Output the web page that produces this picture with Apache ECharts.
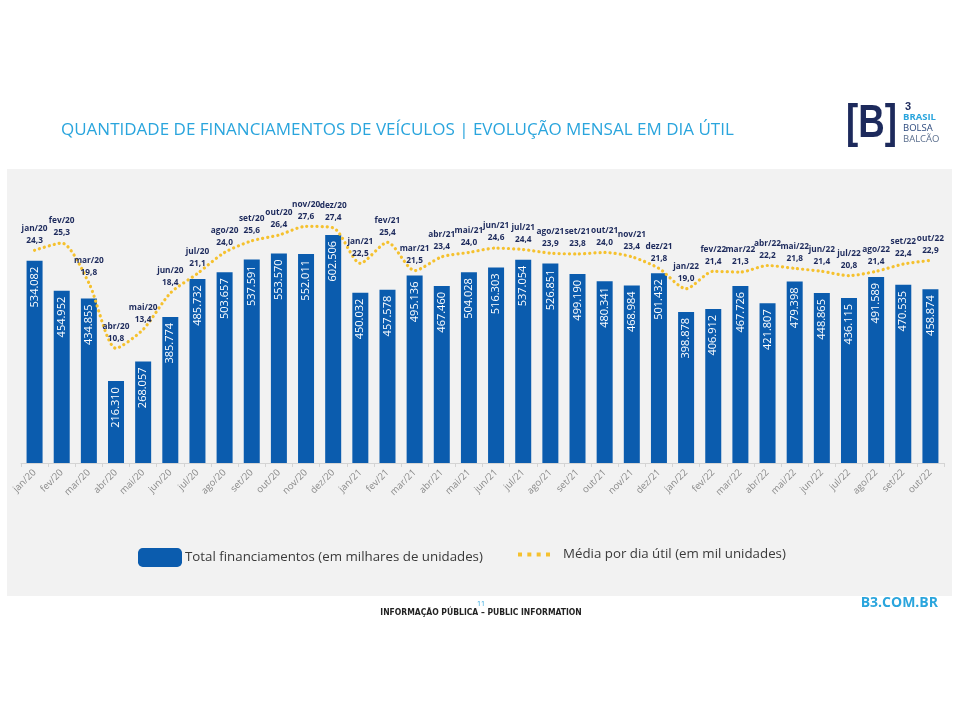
<!DOCTYPE html>
<html>
<head>
<meta charset="utf-8">
<script src="https://cdn.jsdelivr.net/npm/echarts@6/dist/echarts.min.js"></script>
<style>
    html, body { margin: 0; padding: 0; background: #fff; }
    #main { width: 960px; height: 720px; }
</style>
</head>
<body>
<div id="main"></div>
<script>
// meses
const months = [
    'jan/20', 'fev/20', 'mar/20', 'abr/20', 'mai/20', 'jun/20', 'jul/20', 'ago/20', 'set/20', 'out/20', 'nov/20', 'dez/20',
    'jan/21', 'fev/21', 'mar/21', 'abr/21', 'mai/21', 'jun/21', 'jul/21', 'ago/21', 'set/21', 'out/21', 'nov/21', 'dez/21',
    'jan/22', 'fev/22', 'mar/22', 'abr/22', 'mai/22', 'jun/22', 'jul/22', 'ago/22', 'set/22', 'out/22'
];

// total de financiamentos (unidades)
const totalFinanciamentos = [
    534082, 454952, 434855, 216310, 268057, 385774, 485732, 503657, 537591, 553570, 552011, 602506,
    450032, 457578, 495136, 467460, 504028, 516303, 537054, 526851, 499190, 480341, 468984, 501432,
    398878, 406912, 467726, 421807, 479398, 448865, 436115, 491589, 470535, 458874
];

// média por dia útil (mil unidades)
const mediaDiaUtil = [
    24.3, 25.3, 19.8, 10.8, 13.4, 18.4, 21.1, 24.0, 25.6, 26.4, 27.6, 27.4,
    22.5, 25.4, 21.5, 23.4, 24.0, 24.6, 24.4, 23.9, 23.8, 24.0, 23.4, 21.8,
    19.0, 21.4, 21.3, 22.2, 21.8, 21.4, 20.8, 21.4, 22.4, 22.9
];

const nomeBarra = 'Total financiamentos (em milhares de unidades)';
const nomeLinha = 'Média por dia útil (em mil unidades)';

const azul = '#0B5CAE';
const amarelo = '#F5C12E';
const ciano = '#2AA5DD';
const marinho = '#1D2A5C';

function formatMilhar(v) {
    return v.toString().replace(/\B(?=(\d{3})+(?!\d))/g, '.');
}

const myChart = echarts.init(document.getElementById('main'));

const option = {
    backgroundColor: '#fff',
    animation: false,
    textStyle: { fontFamily: 'Open Sans' },
    title: {
        text: 'QUANTIDADE DE FINANCIAMENTOS DE VEÍCULOS | EVOLUÇÃO MENSAL EM DIA ÚTIL',
        left: 56,
        top: 117,
        textStyle: { color: ciano, fontSize: 17, fontWeight: 'normal', fontFamily: 'Open Sans' }
    },
    graphic: [
        // painel cinza
        { type: 'rect', z: -10, shape: { x: 7, y: 169, width: 945, height: 427 }, style: { fill: '#F2F2F2' } },
        // logo
        { type: 'text', x: 846, y: 101, scaleX: 0.78, style: { text: '[B]', fill: marinho, font: 'bold 47px "Liberation Sans"' } },
        { type: 'text', x: 905, y: 101, style: { text: '3', fill: marinho, font: 'bold 11px "Liberation Sans"' } },
        { type: 'text', x: 903, y: 112, style: { text: 'BRASIL', fill: ciano, font: 'bold 9.5px "Open Sans"' } },
        { type: 'text', x: 903, y: 123, style: { text: 'BOLSA', fill: '#2D4A7E', font: '9.5px "Open Sans"' } },
        { type: 'text', x: 903, y: 134, style: { text: 'BALCÃO', fill: '#5B6F8E', font: '9.5px "Open Sans"' } },
        // rodapé
        { type: 'text', x: 481, y: 600, style: { text: '11', fill: ciano, font: '7px "Open Sans"', textAlign: 'center' } },
        { type: 'text', x: 481, y: 608, style: { text: 'INFORMAÇÃO PÚBLICA – PUBLIC INFORMATION', fill: '#222', font: 'bold 8.5px "DejaVu Sans Condensed"', textAlign: 'center' } },
        { type: 'text', x: 938, y: 596, style: { text: 'B3.COM.BR', fill: ciano, font: 'bold 14px "Open Sans"', textAlign: 'right' } }
    ],
    legend: [
        {
            data: [nomeBarra],
            left: 133,
            top: 543,
            itemWidth: 44,
            itemHeight: 19,
            icon: 'roundRect',
            textStyle: { color: '#3a3a3a', fontSize: 13.3, padding: [0, 0, 0, -2] }
        },
        {
            data: [{ name: nomeLinha, icon: 'path://M0,0h3v3h-3z M7,0h3v3h-3z M14,0h3v3h-3z M21,0h3v3h-3z' }],
            left: 513,
            top: 543,
            itemWidth: 32,
            itemHeight: 4,
            textStyle: { color: '#3a3a3a', fontSize: 13.3, padding: [0, 0, 0, 8] }
        }
    ],
    grid: {
        left: 21,
        right: 16,
        top: 198,
        bottom: 257,
        containLabel: false
    },
    xAxis: {
        type: 'category',
        data: months,
        axisLine: { lineStyle: { color: '#d4d4d4' } },
        axisTick: { show: true, length: 4, lineStyle: { color: '#d4d4d4' } },
        axisLabel: { rotate: 45, color: '#8a8a8a', fontSize: 9.5, margin: 8 }
    },
    yAxis: [
        { type: 'value', min: 0, max: 700, show: false, splitLine: { show: false } },
        { type: 'value', min: -5, max: 31.5, show: false, splitLine: { show: false } }
    ],
    series: [
        {
            name: nomeBarra,
            type: 'bar',
            data: totalFinanciamentos.map(v => v / 1000),
            barWidth: 16,
            itemStyle: { color: azul },
            label: {
                show: true,
                position: 'insideTop',
                rotate: 90,
                align: 'right',
                verticalAlign: 'middle',
                distance: 6,
                color: '#fff',
                fontSize: 11,
                formatter: p => formatMilhar(totalFinanciamentos[p.dataIndex])
            }
        },
        {
            name: nomeLinha,
            type: 'line',
            yAxisIndex: 1,
            data: mediaDiaUtil,
            smooth: 0.25,
            symbol: 'circle',
            symbolSize: 0,
            showSymbol: true,
            z: 5,
            itemStyle: { color: amarelo },
            lineStyle: { color: amarelo, width: 3.2, type: [0.1, 5], cap: 'round' },
            label: {
                show: true,
                position: 'top',
                distance: 4,
                color: marinho,
                fontSize: 8.3,
                fontWeight: 'bold',
                lineHeight: 12,
                formatter: p => months[p.dataIndex] + '\n' + p.value.toFixed(1).replace('.', ',')
            },
            labelLayout: { hideOverlap: false }
        }
    ]
};

myChart.setOption(option);
</script>
</body>
</html>
